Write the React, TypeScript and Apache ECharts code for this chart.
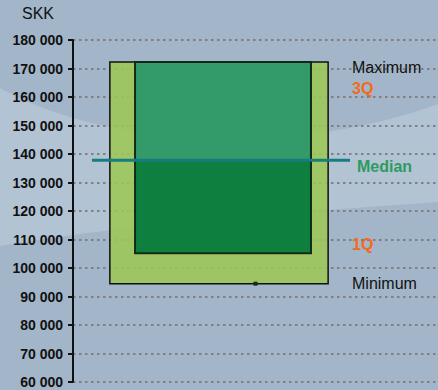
import React, { useEffect, useRef } from "react";
import * as echarts from "echarts";

// Salary distribution, SKK
const yTicks = [60000, 180000, 10000]; // min, max, step
const statNames = ["Minimum", "1Q", "Median", "3Q", "Maximum"];
const statValues = [94500, 105200, 137800, 172300, 172300];
const labelColors = ["#111111", "#f26a21", "#2e9a5f", "#f26a21", "#111111"];

const fmt = (v: number) => String(v).replace(/\B(?=(\d{3})+(?!\d))/g, " ");

// lighter swoosh across the backdrop
echarts.graphic.registerShape(
  "swoosh",
  echarts.graphic.extendPath(
    "M0,88 C110,150 300,155 438,104 L438,202 C300,212 140,222 0,246 Z",
    {}
  )
);

export default function App() {
  const ref = useRef<HTMLDivElement>(null);

  useEffect(() => {
    if (!ref.current) return;
    const chart = echarts.init(ref.current, undefined, { renderer: "svg" });

    const [vMin, vQ1, vMed, vQ3, vMax] = statValues;

    const labelY: Record<string, number> = {
      Maximum: 67,
      "3Q": 88,
      Median: 166,
      "1Q": 244,
      Minimum: 283,
    };
    const labelX: Record<string, number> = {
      Maximum: 352,
      "3Q": 352,
      Median: 357,
      "1Q": 352,
      Minimum: 352,
    };

    chart.setOption({
      animation: false,
      backgroundColor: "#a3b5c8",
      grid: { left: 73, right: 0, top: 40, bottom: 8 },
      xAxis: { type: "value", min: 0, max: 1, show: false },
      yAxis: {
        type: "value",
        min: yTicks[0],
        max: yTicks[1],
        interval: yTicks[2],
        axisLine: { show: true, lineStyle: { color: "#111", width: 2 } },
        axisTick: { show: true, length: 5, lineStyle: { color: "#111", width: 2 } },
        axisLabel: {
          margin: 10,
          color: "#111",
          fontFamily: "Liberation Sans, Arial, sans-serif",
          fontSize: 14,
          fontWeight: "bold",
          formatter: (v: number) => fmt(v),
        },
        splitLine: {
          show: true,
          lineStyle: { color: "#7e8085", width: 2, type: [2.5, 3.5] },
        },
      },
      graphic: {
        elements: [
          {
            type: "swoosh",
            z: -10,
            silent: true,
            style: { fill: "#b2c3d4" },
          },
          {
            type: "text",
            left: 22,
            top: 5,
            z: 100,
            style: {
              text: "SKK",
              fill: "#111",
              font: "16px 'Liberation Sans', Arial, sans-serif",
            },
          },
          ...statNames.map((name, i) => ({
            type: "text",
            x: labelX[name],
            y: labelY[name],
            z: 100,
            style: {
              text: name,
              fill: labelColors[i],
              verticalAlign: "middle",
              font:
                (labelColors[i] === "#111111" ? "" : "bold ") +
                "16px 'Liberation Sans', Arial, sans-serif",
            },
          })),
        ],
      },
      series: [
        {
          type: "custom",
          data: [[0.5, vMin, vQ1, vMed, vQ3, vMax]],
          renderItem: (params: any, api: any) => {
            const cs = params.coordSys;
            const px = (f: number) => cs.x + cs.width * f;
            const py = (v: number) => api.coord([0, v])[1];
            const yMin = py(api.value(1));
            const yQ1 = py(api.value(2));
            const yMed = py(api.value(3));
            const yQ3 = py(api.value(4));
            const yMax = py(api.value(5));
            const oL = px(0.101), oR = px(0.699);
            const iL = px(0.17), iR = px(0.652);
            const mL = px(0.052), mR = px(0.759);
            const mk = px(api.value(0));
            return {
              type: "group",
              children: [
                {
                  type: "rect",
                  shape: { x: oL, y: yMax, width: oR - oL, height: yMin - yMax },
                  style: { fill: "rgba(157,199,83,0.86)", stroke: "#111", lineWidth: 1.5 },
                },
                {
                  type: "rect",
                  shape: { x: iL, y: yQ3, width: iR - iL, height: yMed - yQ3 },
                  style: { fill: "#339a69" },
                },
                {
                  type: "rect",
                  shape: { x: iL, y: yMed, width: iR - iL, height: yQ1 - yMed },
                  style: { fill: "#0e7f3f" },
                },
                {
                  type: "rect",
                  shape: { x: iL, y: yQ3, width: iR - iL, height: yQ1 - yQ3 },
                  style: { fill: "none", stroke: "#112a18", lineWidth: 2 },
                },
                {
                  type: "line",
                  shape: { x1: mL, y1: yMed, x2: mR, y2: yMed },
                  style: { stroke: "#167d80", lineWidth: 3 },
                },
                {
                  type: "rect",
                  shape: { x: mk - 2, y: yMin - 2, width: 4, height: 4 },
                  style: { fill: "#1b2a12" },
                },
              ],
            };
          },
        },
      ],
    });

    return () => chart.dispose();
  }, []);

  return (
    <div
      ref={ref}
      style={{ width: 438, height: 390, position: "absolute", left: 0, top: 0 }}
    />
  );
}
